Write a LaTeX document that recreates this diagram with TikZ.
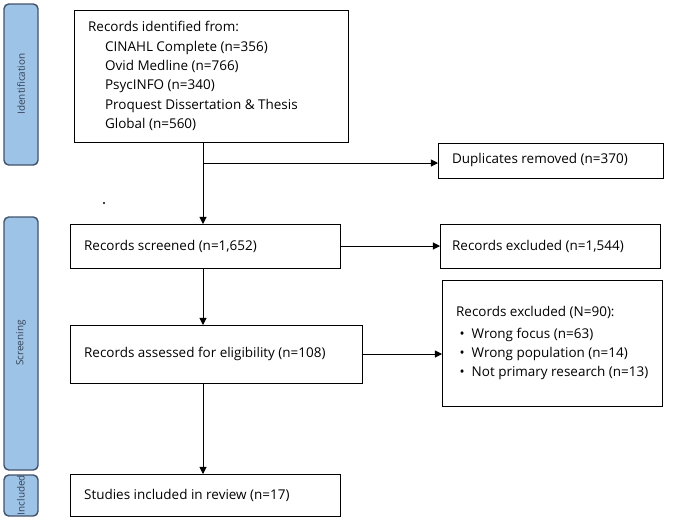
\documentclass[tikz,border=0pt]{standalone}
\usepackage{fontspec}
\setmainfont{Open Sans}
\usetikzlibrary{arrows.meta}
\definecolor{barfill}{HTML}{9DC3E6}
\definecolor{barline}{HTML}{41526B}
\begin{document}
\begin{tikzpicture}[x=0.03cm, y=-0.03cm, >={Triangle[length=6pt,width=6pt]},
	box/.style={draw, thick, inner sep=0pt},
	phase/.style={draw=barline, very thick, fill=barfill, rounded corners=4pt},
	phasetext/.style={rotate=90, font=\fontsize{8.5}{10}\selectfont, text=barline!80!black},
	txt/.style={anchor=west, font=\fontsize{11.5}{16.5}\selectfont, align=left}]
	\useasboundingbox (0,0) rectangle (674,520);
	% phase bars
	\draw[phase] (4,4) rectangle (38,165);
	\node[phasetext] (idl) at (21,84) {Identification};
	\draw[phase] (4,217) rectangle (38,470);
	\node[phasetext] (scl) at (21,343) {Screening};
	\draw[phase] (4,475) rectangle (38,516);
	\node[phasetext] (inl) at (21,495) {Included};

	% boxes
	\draw[box] (74,10) rectangle (348,142);
	\node[txt] (id) at (84,76) {Records identified from:\\
		\quad\ CINAHL Complete (n=356)\\
		\quad\ Ovid Medline (n=766)\\
		\quad\ PsycINFO (n=340)\\
		\quad\ Proquest Dissertation \& Thesis\\
		\quad\ Global (n=560)};
	\coordinate (idb) at (203,142);

	\draw[box] (438,143) rectangle (663,178);
	\node[txt] (dup) at (448,160) {Duplicates removed (n=370)};
	\coordinate (dupl) at (438,163);
	\coordinate (br) at (203,163);

	\draw[box] (70,224) rectangle (340,268);
	\node[txt] (scr) at (80,246) {Records screened (n=1,652)};
	\coordinate (scrt) at (203,224);
	\coordinate (scrr) at (340,246);
	\coordinate (scrb) at (203,268);

	\draw[box] (440,224) rectangle (660,268);
	\node[txt] (exc) at (448,246) {Records excluded (n=1,544)};
	\coordinate (excl) at (440,246);

	\draw[box] (70,325) rectangle (362,383);
	\node[txt] (ass) at (80,354) {Records assessed for eligibility (n=108)};
	\coordinate (asst) at (203,325);
	\coordinate (assr) at (362,354);
	\coordinate (assb) at (203,383);

	\draw[box] (442,280) rectangle (662,406);
	\node[txt] (exn) at (452,343) {Records excluded (N=90):\\[2pt]
		\ \textbullet\ \ Wrong focus (n=63)\\
		\ \textbullet\ \ Wrong population (n=14)\\
		\ \textbullet\ \ Not primary research (n=13)};
	\coordinate (exnl) at (442,354);

	\draw[box] (70,474) rectangle (340,516);
	\node[txt] (inc) at (80,495) {Studies included in review (n=17)};
	\coordinate (inct) at (203,474);

	\fill (104,203) circle (1pt);

	% connectors
	\draw[->, thick] (idb) -- (scrt);
	\draw[->, thick] (br) -- (dupl);
	\draw[->, thick] (scrr) -- (excl);
	\draw[->, thick] (scrb) -- (asst);
	\draw[->, thick] (assr) -- (exnl);
	\draw[->, thick] (assb) -- (inct);
\end{tikzpicture}
\end{document}
